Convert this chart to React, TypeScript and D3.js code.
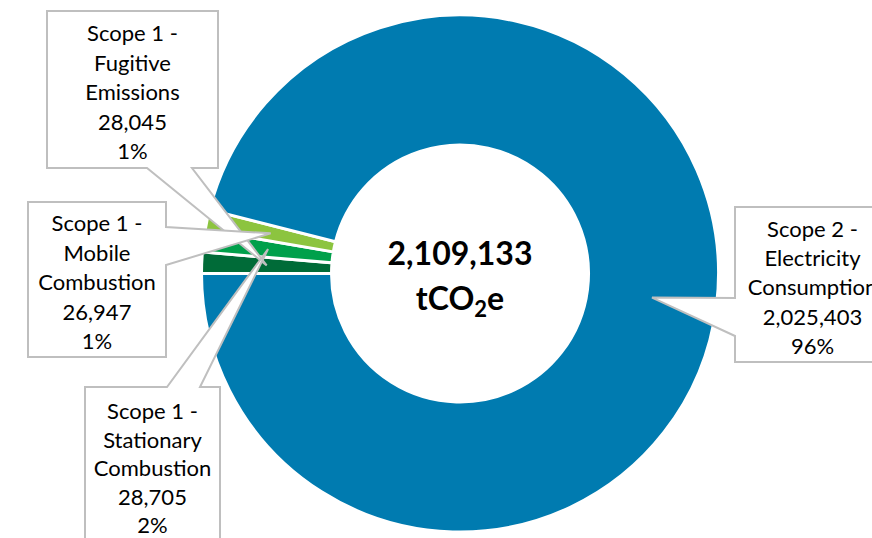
import React from "react";
import * as d3 from "d3";

// ---- data ----
const categories = [
  "Scope 1 - Fugitive Emissions",
  "Scope 1 - Stationary Combustion",
  "Scope 1 - Mobile Combustion",
  "Scope 2 - Electricity Consumption",
];
const values = [28045, 28705, 26947, 2025403];
const percents = ["1%", "2%", "1%", "96%"];
const labelLines = [
  ["Scope 1 -", "Fugitive", "Emissions"],
  ["Scope 1 -", "Stationary", "Combustion"],
  ["Scope 1 -", "Mobile", "Combustion"],
  ["Scope 2 -", "Electricity", "Consumption"],
];
const totalLabel = "2,109,133";
const colors = ["#006B38", "#00A04B", "#8CC43F", "#007BB0"];

// ---- layout (annotation boxes) ----
const W = 872, H = 538;
const cx = 460, cy = 273.5;
const R = 257, r = 130;
type Side = "top" | "bottom" | "left" | "right";
const callouts: { x: number; y: number; w: number; h: number; side: Side; b1: number; b2: number; textTop: number; lineH: number }[] = [
  { x: 47, y: 11, w: 171, h: 157, side: "bottom", b1: 147, b2: 192, textTop: 33, lineH: 29.5 },
  { x: 85, y: 387, w: 135, h: 170, side: "top", b1: 167, b2: 200, textTop: 411, lineH: 28.5 },
  { x: 28, y: 202, w: 138, h: 155, side: "right", b1: 227, b2: 265, textTop: 223, lineH: 29.5 },
  { x: 735, y: 207, w: 155, h: 155, side: "left", b1: 298, b2: 336, textTop: 229, lineH: 29.2 },
];

function calloutPath(c: typeof callouts[number], tip: [number, number]) {
  const { x, y, w, h, side, b1, b2 } = c;
  const pts: [number, number][] = [];
  pts.push([x, y]);
  if (side === "top") pts.push([b1, y], tip, [b2, y]);
  pts.push([x + w, y]);
  if (side === "right") pts.push([x + w, b1], tip, [x + w, b2]);
  pts.push([x + w, y + h]);
  if (side === "bottom") pts.push([b2, y + h], tip, [b1, y + h]);
  pts.push([x, y + h]);
  if (side === "left") pts.push([x, b2], tip, [x, b1]);
  return "M" + pts.map((p) => p.join(",")).join("L") + "Z";
}

export default function App() {
  const pie = d3
    .pie<number>()
    .sort(null)
    .startAngle(-Math.PI / 2)
    .endAngle((3 * Math.PI) / 2);
  const arcs = pie(values);
  const arcGen = d3.arc<d3.PieArcDatum<number>>().innerRadius(r - 1.5).outerRadius(R + 1.5);
  const centroidGen = d3.arc<d3.PieArcDatum<number>>().innerRadius(r).outerRadius(R);
  const fmt = d3.format(",");

  return (
    <svg
      width={W}
      height={H}
      style={{ position: "absolute", left: 0, top: 0, background: "#fff" }}
      fontFamily="Lato, 'Open Sans', sans-serif"
    >
      <g transform={`translate(${cx},${cy})`}>
        {arcs.map((a, i) => (
          <path key={categories[i]} d={arcGen(a) || ""} fill={colors[i]} stroke="#fff" strokeWidth={3} />
        ))}
      </g>
      {arcs.map((a, i) => {
        const c = callouts[i];
        const [tx, ty] = centroidGen.centroid(a);
        const tip: [number, number] = [tx + cx, ty + cy];
        const lines = [...labelLines[i], fmt(values[i]), percents[i]];
        const mid = c.x + c.w / 2;
        return (
          <g key={"c" + i}>
            <path d={calloutPath(c, tip)} fill="#fff" stroke="#BFBFBF" strokeWidth={2} strokeLinejoin="miter" />
            <text fontSize={22} fill="#000" textAnchor="middle">
              {lines.map((l, j) => (
                <tspan key={j} x={mid} y={c.textTop + j * c.lineH + 8}>
                  {l}
                </tspan>
              ))}
            </text>
          </g>
        );
      })}
      <text x={cx} y={cy - 8.5} textAnchor="middle" fontWeight="bold" fontSize={32} fill="#000">
        {totalLabel}
      </text>
      <text x={cx} y={cy + 36.5} textAnchor="middle" fontWeight="bold" fontSize={32} fill="#000">
        tCO
        <tspan fontSize={22} dy={7}>2</tspan>
        <tspan dy={-7}>e</tspan>
      </text>
    </svg>
  );
}
